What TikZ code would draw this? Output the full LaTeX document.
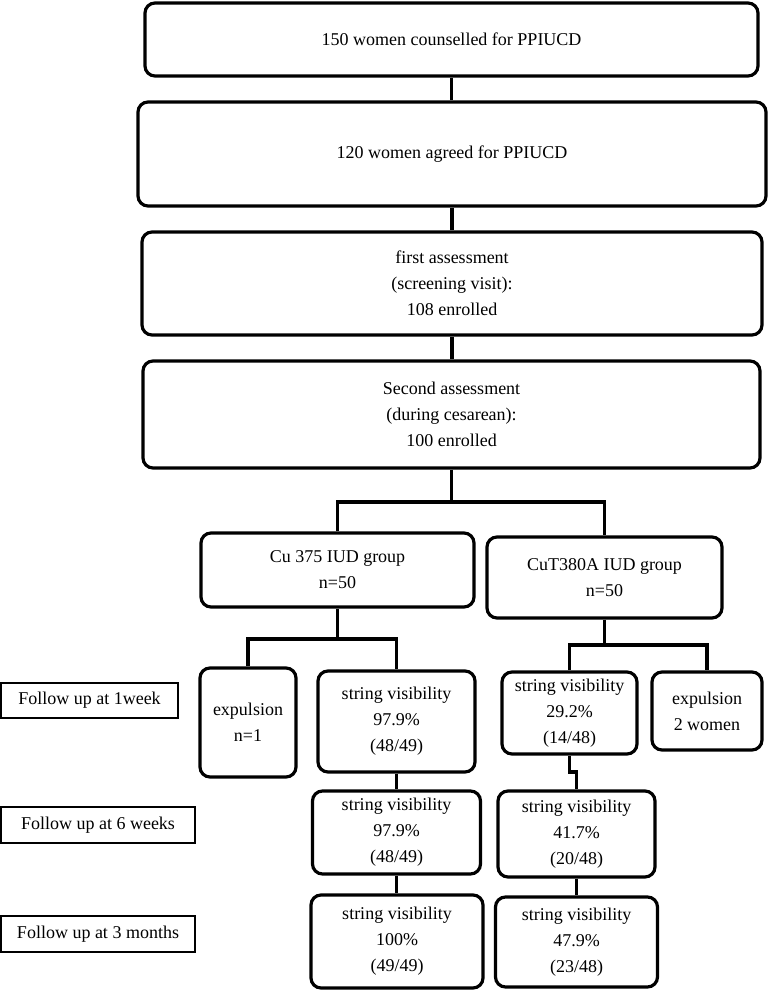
\documentclass[tikz,border=0pt]{standalone}
\usepackage{fontspec}
\setmainfont{Liberation Serif}
\begin{document}
\begin{tikzpicture}[x=1pt,y=-1pt,
  rbox/.style={draw, rounded corners=10pt, line width=3.2pt, inner sep=0pt, align=center,
    font=\fontsize{18}{26}\selectfont},
  fbox/.style={draw, line width=1.6pt, inner sep=0pt, align=center,
    font=\fontsize{18}{26}\selectfont},
  conn/.style={line width=3.2pt}]
\useasboundingbox (0,0) rectangle (769,990);
% main column
\node[rbox, minimum width=613pt, minimum height=73pt] (b1) at (451.5,39.5) {150 women counselled for PPIUCD};
\node[rbox, minimum width=628pt, minimum height=104pt] (b2) at (452,154) {120 women agreed for PPIUCD};
\node[rbox, minimum width=620pt, minimum height=103pt] (b3) at (452,283.5) {first assessment\\(screening visit):\\108 enrolled};
\node[rbox, minimum width=617pt, minimum height=107pt] (b4) at (451.5,414.5) {Second assessment\\(during cesarean):\\100 enrolled};
% groups
\node[rbox, minimum width=273pt, minimum height=74pt] (c1) at (337.5,570) {Cu 375 IUD group\\n=50};
\node[rbox, minimum width=235pt, minimum height=81pt] (c2) at (604.5,577.5) {CuT380A IUD group\\n=50};
% 1 week
\node[rbox, minimum width=96pt, minimum height=109pt] (e1) at (248,722.5) {expulsion\\n=1};
\node[rbox, minimum width=157pt, minimum height=101pt] (s1) at (396.5,721.5) {string visibility\\97.9\%\\(48/49)};
\node[rbox, minimum width=135pt, minimum height=82pt] (s2) at (569.5,713) {string visibility\\29.2\%\\(14/48)};
\node[rbox, minimum width=110pt, minimum height=78pt] (e2) at (707,711) {expulsion\\2 women};
% 6 weeks
\node[rbox, minimum width=168pt, minimum height=83pt] (s3) at (396.5,832.5) {string visibility\\97.9\%\\(48/49)};
\node[rbox, minimum width=157pt, minimum height=86pt] (s4) at (576.5,834) {string visibility\\41.7\%\\(20/48)};
% 3 months
\node[rbox, minimum width=172pt, minimum height=93pt] (s5) at (397,941.5) {string visibility\\100\%\\(49/49)};
\node[rbox, minimum width=162pt, minimum height=90pt] (s6) at (576.5,942) {string visibility\\47.9\%\\(23/48)};
% follow-up labels
\node[fbox, minimum width=177pt, minimum height=35pt] (f1) at (89.5,700.5) {Follow up at 1week};
\node[fbox, minimum width=194pt, minimum height=36pt] (f2) at (98,825) {Follow up at 6 weeks};
\node[fbox, minimum width=194pt, minimum height=36pt] (f3) at (98,934) {Follow up at 3 months};
% connectors
\draw[conn] (b1.south) -- (b1.south |- b2.north);
\draw[conn] (b2.south) -- (b2.south |- b3.north);
\draw[conn] (b3.south) -- (b3.south |- b4.north);
\coordinate (j1) at (451.5,502);
\draw[conn] (b4.south) -- (j1);
\draw[conn] (c1.north) |- (j1) -| (c2.north);
\coordinate (j2) at (337.5,639);
\draw[conn] (c1.south) -- (j2);
\draw[conn] (e1.north) |- (j2) -| (s1.north);
\coordinate (j3) at (604.5,645);
\draw[conn] (c2.south) -- (j3);
\draw[conn] (s2.north) |- (j3) -| (e2.north);
\draw[conn] (s1.south) -- (s1.south |- s3.north);
\coordinate (j4) at (569.5,772);
\draw[conn] (s2.south) -- (j4) -| (s4.north);
\draw[conn] (s3.south) -- (s3.south |- s5.north);
\draw[conn] (s4.south) -- (s4.south |- s6.north);
\end{tikzpicture}
\end{document}
